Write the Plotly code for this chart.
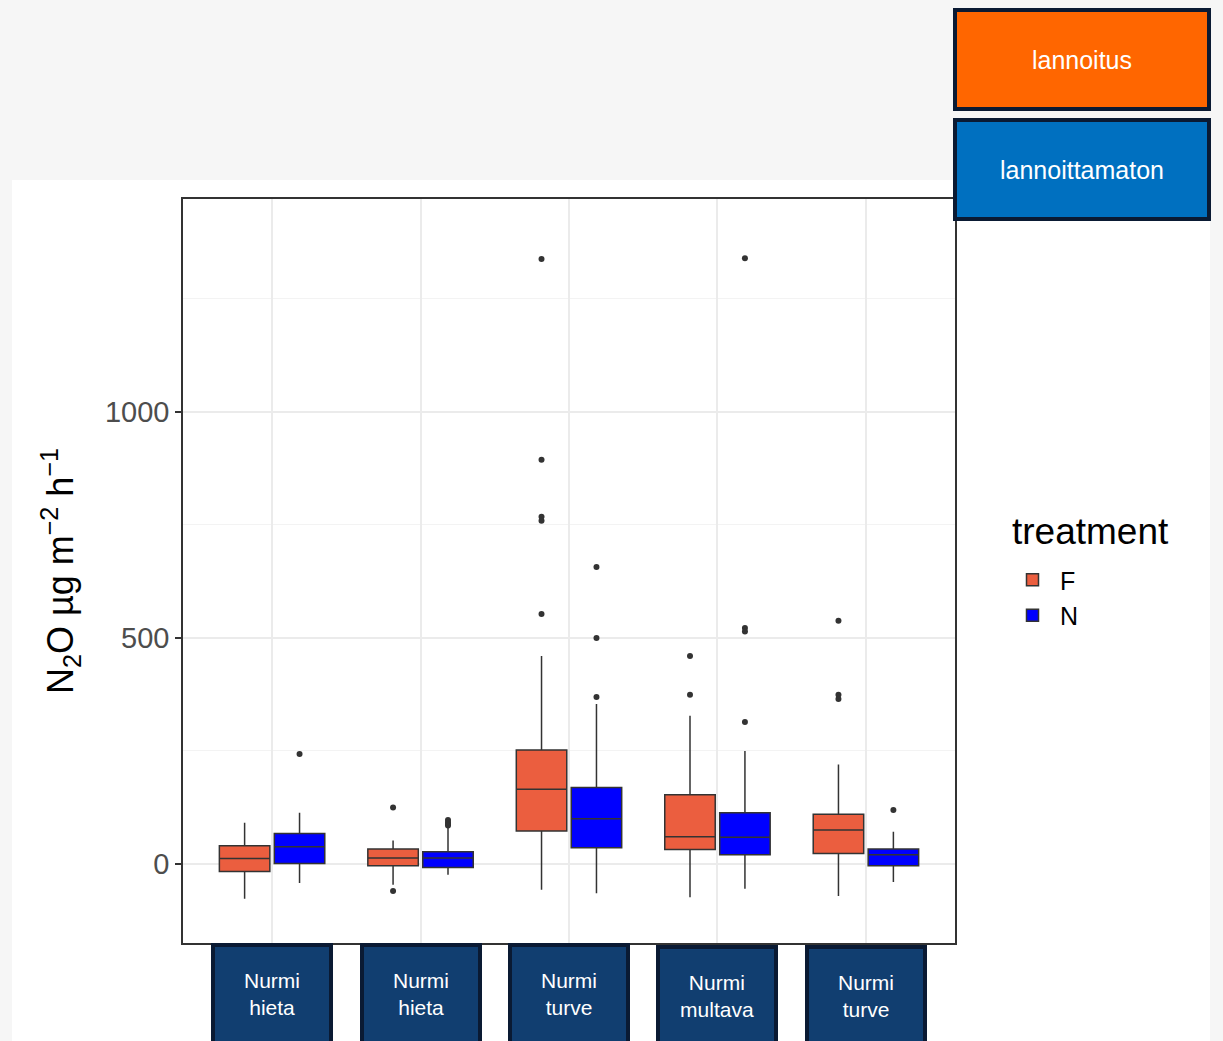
import plotly.graph_objects as go

# ---------------- data ----------------
categories = ["Nurmi<br>hieta", "Nurmi<br>hieta", "Nurmi<br>turve", "Nurmi<br>multava", "Nurmi<br>turve"]
treatments = ["F", "N"]
legend_title = "treatment"

# F (lannoitus) box statistics per category
F_q1 = [-17, -4, 73, 32, 23]
F_median = [12, 13, 165, 60, 75]
F_q3 = [40, 33, 252, 153, 110]
F_lower = [-77, -46, -57, -74, -71]
F_upper = [91, 52, 460, 328, 220]
F_outliers = [[], [125, -60], [1338, 894, 768, 759, 553], [460, 374], [538, 374, 365]]

# N (lannoittamaton) box statistics per category
N_q1 = [1, -8, 36, 20, -4]
N_median = [38, 13, 100, 59, 20]
N_q3 = [67, 27, 169, 113, 33]
N_lower = [-42, -24, -65, -55, -40]
N_upper = [113, 80, 354, 250, 71]
N_outliers = [[243], [97, 92, 88, 85], [657, 500, 369], [1340, 522, 514, 314], [119]]

y_ticks = [0, 500, 1000]
legend_boxes = ["lannoitus", "lannoittamaton"]

# ---------------- styling ----------------
F_COLOR = "#EB5E3F"
N_COLOR = "#0000FF"
LINE = "#333333"
FONT = "Liberation Sans, Arial, sans-serif"
OFFSET = 0.185
BOX_W = 0.34

positions = list(range(1, len(categories) + 1))

fig = go.Figure()

series = [
    (treatments[0], F_q1, F_median, F_q3, F_lower, F_upper, F_outliers, F_COLOR, -OFFSET),
    (treatments[1], N_q1, N_median, N_q3, N_lower, N_upper, N_outliers, N_COLOR, OFFSET),
]

for name, q1, med, q3, lo, hi, outs, col, off in series:
    xs = [p + off for p in positions]
    fig.add_trace(go.Box(
        name=name, x=xs, q1=q1, median=med, q3=q3,
        lowerfence=lo, upperfence=hi, width=BOX_W,
        fillcolor=col, line=dict(color=LINE, width=1.5),
        whiskerwidth=0, boxpoints=False, legendgroup=name,
        hoverinfo="skip",
    ))
    ox, oy = [], []
    for x, vals in zip(xs, outs):
        for v in vals:
            ox.append(x)
            oy.append(v)
    fig.add_trace(go.Scatter(
        x=ox, y=oy, mode="markers", showlegend=False, legendgroup=name,
        marker=dict(color=LINE, size=6), hoverinfo="skip",
    ))

# plot area pixels: x 183..955, y 199..943
L, R, T, B = 183, 955, 199, 943
W, H = 1223, 1041
pw, ph = R - L, B - T


def px(xp):
    return (xp - L) / pw


def py(yp):
    return (B - yp) / ph


shapes = [
    # white image region behind the chart
    dict(type="rect", xref="paper", yref="paper", x0=px(12), x1=px(1210),
         y0=py(1045), y1=py(180), fillcolor="white", line=dict(width=0), layer="below"),
]

annotations = []
# category label boxes
for i, (p, cat) in enumerate(zip(positions, categories)):
    annotations.append(dict(
        x=p, xref="x", y=0, yref="paper", yanchor="top", xanchor="center",
        yshift=0 if i < 3 else -2,
        text=cat, showarrow=False, align="center",
        font=dict(family=FONT, size=21, color="white"),
        bgcolor="#113E70", bordercolor="#0A1A33", borderwidth=4, borderpad=0,
        width=114, height=94,
    ))

# top-right treatment boxes
for txt, col, top in [(legend_boxes[0], "#FF6600", 8), (legend_boxes[1], "#0070C0", 118)]:
    annotations.append(dict(
        x=px(1082), y=py(top), xref="paper", yref="paper",
        xanchor="center", yanchor="top", text=txt, showarrow=False,
        font=dict(family=FONT, size=25, color="white"),
        bgcolor=col, bordercolor="#0A1A33", borderwidth=4, borderpad=0,
        width=250, height=95,
    ))

# legend title
annotations.append(dict(
    x=px(1010), y=py(531), xref="paper", yref="paper", xanchor="left", yanchor="middle",
    text=legend_title, showarrow=False,
    font=dict(family=FONT, size=37, color="black"),
))

fig.update_layout(
    width=W, height=H,
    margin=dict(l=L, r=W - R, t=T, b=H - B),
    paper_bgcolor="#F6F6F6", plot_bgcolor="white",
    font=dict(family=FONT),
    showlegend=True,
    legend=dict(
        x=px(1005), y=py(557), xanchor="left", yanchor="top",
        bgcolor="rgba(0,0,0,0)",
        font=dict(family=FONT, size=25, color="black"),
        tracegroupgap=0, itemwidth=45,
    ),
    xaxis=dict(
        range=[0.4, len(categories) + 0.6], tickvals=positions, showticklabels=False,
        showgrid=True, gridcolor="#EBEBEB", gridwidth=2,
        showline=True, mirror=True, linecolor=LINE, linewidth=1.5,
        zeroline=False, ticks="",
    ),
    yaxis=dict(
        range=[-175, 1471], tickvals=y_ticks,
        tickfont=dict(family=FONT, size=29, color="#4D4D4D"),
        ticks="outside", ticklen=6, tickcolor=LINE, tickwidth=1.5,
        showgrid=True, gridcolor="#EBEBEB", gridwidth=2,
        minor=dict(dtick=250, showgrid=True, gridcolor="#F3F3F3", gridwidth=1),
        showline=True, mirror=True, linecolor=LINE, linewidth=1.5,
        zeroline=False,
        title=dict(text="N<sub>2</sub>O µg m<sup>−2</sup> h<sup>−1</sup>",
                   font=dict(family=FONT, size=36, color="black"), standoff=20),
    ),
    shapes=shapes,
    annotations=annotations,
)

fig.write_html("out.html", config={"displayModeBar": False},
               post_script="document.body.style.margin='0';")
